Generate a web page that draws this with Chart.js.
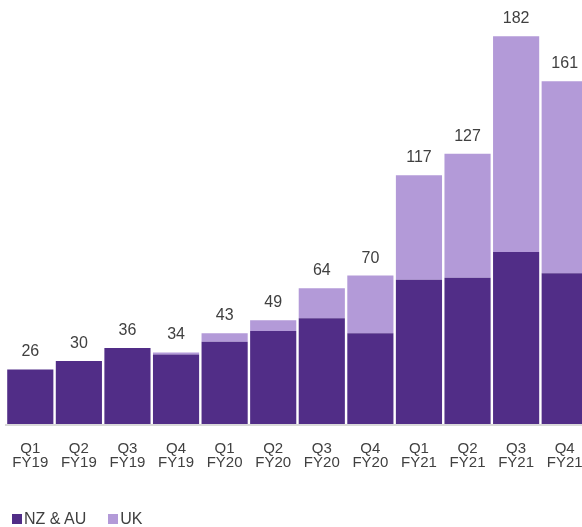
<!DOCTYPE html>
<html>
<head>
<meta charset="utf-8">
<script src="https://cdn.jsdelivr.net/npm/chart.js@4.4.1/dist/chart.umd.min.js"></script>
<style>
  html, body { margin: 0; padding: 0; overflow: hidden; background: #fff; }
  #wrap { position: relative; width: 592px; height: 527px; }
  #legend {
    position: absolute; left: 12px; top: 510px;
    font: 16px "Liberation Sans", Arial, sans-serif; color: #404040;
    display: flex; align-items: center; white-space: nowrap;
  }
  #legend span.box { display: inline-block; width: 10px; height: 10px; margin-right: 2px; }
  #legend span.item { display: inline-flex; align-items: center; margin-right: 22px; }
</style>
</head>
<body>
<div id="wrap">
  <canvas id="chart"></canvas>
  <div id="legend"></div>
</div>
<script>
const quarters = [
    ['Q1', 'FY19'], ['Q2', 'FY19'], ['Q3', 'FY19'], ['Q4', 'FY19'],
    ['Q1', 'FY20'], ['Q2', 'FY20'], ['Q3', 'FY20'], ['Q4', 'FY20'],
    ['Q1', 'FY21'], ['Q2', 'FY21'], ['Q3', 'FY21'], ['Q4', 'FY21']
];
const nzAu = [26, 30, 36, 33, 39, 44, 50, 43, 68, 69, 81, 71];
const uk = [0, 0, 0, 1, 4, 5, 14, 27, 49, 58, 101, 90];

const textColor = '#404040';
const fontFamily = '"Liberation Sans", Arial, sans-serif';

// total on top of each stack
const totalsPlugin = {
    id: 'totals',
    afterDatasetsDraw(chart) {
        const ctx = chart.ctx;
        const top = chart.getDatasetMeta(1);
        const y = chart.scales.y;
        ctx.save();
        ctx.font = '16px ' + fontFamily;
        ctx.fillStyle = textColor;
        ctx.textAlign = 'center';
        ctx.textBaseline = 'alphabetic';
        top.data.forEach((bar, i) => {
            const total = nzAu[i] + uk[i];
            ctx.fillText(total, bar.x, y.getPixelForValue(total) - 13);
        });
        ctx.restore();
    }
};

const ctx = document.getElementById('chart').getContext('2d');
const chart = new Chart(ctx, {
    type: 'bar',
    data: {
        labels: quarters,
        datasets: [{
            label: 'NZ & AU',
            data: nzAu,
            backgroundColor: '#512D87',
            barPercentage: 0.95,
            categoryPercentage: 1
        }, {
            label: 'UK',
            data: uk,
            backgroundColor: '#B39AD8',
            barPercentage: 0.95,
            categoryPercentage: 1
        }]
    },
    options: {
        responsive: true,
        maintainAspectRatio: false,
        animation: false,
        layout: { padding: { left: 6, right: 3, top: 0, bottom: 0 } },
        scales: {
            x: {
                stacked: true,
                grid: { display: false },
                border: { color: '#d9d9d9', width: 2, z: 1 },
                ticks: {
                    color: textColor,
                    font: { family: fontFamily, size: 15, lineHeight: '14px' },
                    padding: 9,
                    maxRotation: 0,
                    autoSkip: false
                },
                afterFit(scale) { scale.height = 102; }
            },
            y: {
                stacked: true,
                display: false,
                min: 0,
                max: 199
            }
        },
        plugins: {
            legend: { display: false },
            tooltip: { enabled: false }
        }
    },
    plugins: [totalsPlugin]
});

// legend as html, same colours as the datasets
const legend = document.getElementById('legend');
chart.data.datasets.forEach(ds => {
    const item = document.createElement('span');
    item.className = 'item';
    const box = document.createElement('span');
    box.className = 'box';
    box.style.background = ds.backgroundColor;
    item.appendChild(box);
    item.appendChild(document.createTextNode(ds.label));
    legend.appendChild(item);
});
</script>
</body>
</html>
